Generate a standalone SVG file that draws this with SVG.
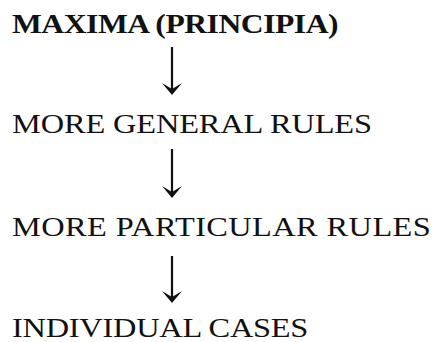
<svg xmlns="http://www.w3.org/2000/svg" width="433" height="342" viewBox="0 0 433 342">
<style>
.t{font-family:"Liberation Serif","Times New Roman",serif;font-size:27px;fill:#111}
.b{font-weight:bold;font-size:28px}
.s{stroke:#111;stroke-width:2.2;fill:none}
.h{fill:#111}
</style>
<defs>
<path id="head" d="M0,0 L-10,-12 L0,-6 L10,-12 Z"/>
</defs>
<rect width="433" height="342" fill="#fff"/>
<g id="n1"><text class="t b" transform="translate(12,33) scale(1.13,1)" x="0" y="0" textLength="289" lengthAdjust="spacing">MAXIMA (PRINCIPIA)</text></g>
<g id="n2"><text class="t" transform="translate(12,133) scale(1.2,1)" x="0" y="0" textLength="300" lengthAdjust="spacing">MORE GENERAL RULES</text></g>
<g id="n3"><text class="t" transform="translate(12,236) scale(1.2,1)" x="0" y="0" textLength="349" lengthAdjust="spacing">MORE PARTICULAR RULES</text></g>
<g id="n4"><text class="t" transform="translate(12,337) scale(1.2,1)" x="0" y="0" textLength="247" lengthAdjust="spacing">INDIVIDUAL CASES</text></g>
<g id="connectors">
<line class="s" x1="172" y1="47" x2="172" y2="91"/>
<use href="#head" class="h" x="172" y="95"/>
<line class="s" x1="172" y1="149" x2="172" y2="194"/>
<use href="#head" class="h" x="172" y="198"/>
<line class="s" x1="172" y1="256" x2="172" y2="299"/>
<use href="#head" class="h" x="172" y="303"/>
</g>
</svg>
